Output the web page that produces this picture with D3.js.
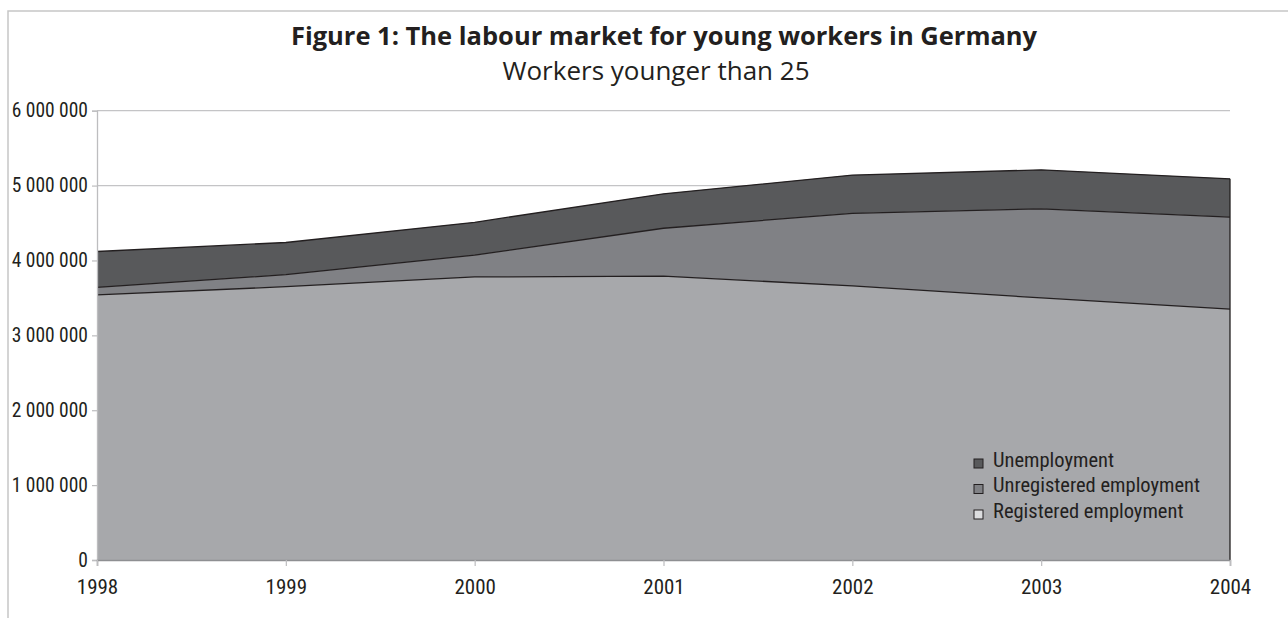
<!DOCTYPE html>
<html>
<head>
<meta charset="utf-8">
<script src="https://cdn.jsdelivr.net/npm/d3@7"></script>
<style>
  html, body { margin: 0; padding: 0; background: #fff; }
  svg { display: block; }
</style>
</head>
<body>
<svg id="chart" width="1288" height="618"></svg>
<script>
// ---- data ----
const years = [1998, 1999, 2000, 2001, 2002, 2003, 2004];
const registered   = [3540000, 3650000, 3780000, 3790000, 3660000, 3500000, 3350000];
const unregistered = [100000, 160000, 290000, 640000, 970000, 1190000, 1230000];
const unemployment = [480000, 430000, 440000, 460000, 510000, 520000, 510000];
const yTickValues = [0, 1000000, 2000000, 3000000, 4000000, 5000000, 6000000];
const seriesNames = ["Registered employment", "Unregistered employment", "Unemployment"];
const seriesColors = ["#a7a8ab", "#808185", "#58595b"];
const legendColors = ["#dcdddf", "#808185", "#58595b"];
const titleText = "Figure 1: The labour market for young workers in Germany";
const subtitleText = "Workers younger than 25";

// ---- layout ----
const svg = d3.select("#chart");
const x = d3.scalePoint().domain(years).range([97, 1230]);
const y = d3.scaleLinear().domain([0, 6000000]).range([560, 110.7]);
const tickFont = "'Liberation Sans Narrow', 'Roboto Condensed', 'Liberation Sans', sans-serif";
const fmt = d3.formatLocale({ decimal: ".", thousands: " ", grouping: [3], currency: ["", ""] }).format(",d");

// frame
svg.append("path")
  .attr("d", "M8,618 L8,11 L1288,11")
  .attr("fill", "none").attr("stroke", "#c6c6c6").attr("stroke-width", 1.5);

// titles
svg.append("text").attr("x", 664).attr("y", 45)
  .attr("text-anchor", "middle")
  .style("font-family", "'Open Sans', 'Noto Sans', sans-serif")
  .style("font-weight", "bold").style("font-size", "25.5px").attr("fill", "#231f20")
  .text(titleText);
svg.append("text").attr("x", 656).attr("y", 80)
  .attr("text-anchor", "middle")
  .style("font-family", "'Open Sans', 'Noto Sans', sans-serif")
  .style("font-size", "26px").attr("fill", "#231f20")
  .text(subtitleText);

// gridlines
svg.append("g").selectAll("line")
  .data(yTickValues.filter(d => d > 0))
  .join("line")
  .attr("x1", x(years[0])).attr("x2", x(years[years.length - 1]))
  .attr("y1", d => y(d)).attr("y2", d => y(d))
  .attr("stroke", "#c4c4c6").attr("stroke-width", 1.2);

// stacked areas
const rows = years.map((yr, i) => ({ year: yr, r: registered[i], u: unregistered[i], e: unemployment[i] }));
const stack = d3.stack().keys(["r", "u", "e"])(rows);
const area = d3.area().x(d => x(d.data.year)).y0(d => y(d[0])).y1(d => y(d[1]));
const topLine = d3.line().x(d => x(d.data.year)).y(d => y(d[1]));

svg.append("g").selectAll("path")
  .data(stack).join("path")
  .attr("d", area)
  .attr("fill", (d, i) => seriesColors[i]);

svg.append("g").selectAll("path")
  .data(stack).join("path")
  .attr("d", topLine)
  .attr("fill", "none").attr("stroke", "#231f20").attr("stroke-width", 1.3);

// right edge of areas
const last = stack[stack.length - 1][years.length - 1];
svg.append("line")
  .attr("x1", x(years[years.length - 1])).attr("x2", x(years[years.length - 1]))
  .attr("y1", y(0)).attr("y2", y(last[1]))
  .attr("stroke", "#231f20").attr("stroke-width", 1.3);

// y axis
const yAxis = svg.append("g").attr("transform", `translate(${x(years[0])},0)`)
  .call(d3.axisLeft(y).tickValues(yTickValues).tickFormat(fmt).tickSize(5).tickPadding(4));
yAxis.select(".domain").attr("stroke", "#bdbdbf").attr("stroke-width", 1.3);
yAxis.selectAll(".tick line").attr("stroke", "#bdbdbf").attr("stroke-width", 1.2);
yAxis.selectAll("text")
  .style("font-family", tickFont).style("font-size", "19.5px").attr("fill", "#231f20");

// x axis
const xAxis = svg.append("g").attr("transform", `translate(0,${y(0)})`)
  .call(d3.axisBottom(x).tickSize(6).tickPadding(13));
xAxis.select(".domain").attr("stroke", "#8e8f92").attr("stroke-width", 1.5);
xAxis.selectAll(".tick line").attr("stroke", "#bdbdbf").attr("stroke-width", 1.2);
xAxis.selectAll("text")
  .style("font-family", tickFont).style("font-size", "21px").attr("fill", "#231f20");

// legend (top to bottom: Unemployment, Unregistered, Registered)
const legendOrder = [2, 1, 0];
const lg = svg.append("g").attr("transform", "translate(974,459)");
const items = lg.selectAll("g").data(legendOrder).join("g")
  .attr("transform", (d, i) => `translate(0,${i * 25.5})`);
items.append("rect").attr("x", 0).attr("y", 0).attr("width", 9).attr("height", 9)
  .attr("fill", d => legendColors[d]).attr("stroke", "#231f20").attr("stroke-width", 1);
items.append("text").attr("x", 19).attr("y", 7.5)
  .style("font-family", tickFont).style("font-size", "20.5px").attr("fill", "#231f20")
  .text(d => seriesNames[d]);
</script>
</body>
</html>
